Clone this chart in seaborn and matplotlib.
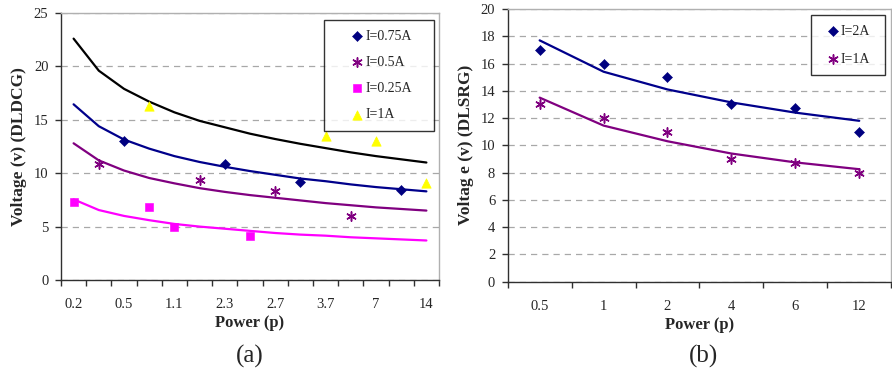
import matplotlib
matplotlib.use("Agg")
import matplotlib.pyplot as plt
import numpy as np
import seaborn as sns

sns.set_theme(style="white")
plt.rcParams['font.family'] = ['Liberation Serif', 'DejaVu Serif']

# ---------------- data: panel (a) ----------------
a_positions = list(range(15))
a_tick_labels = ['0.2', '0.5', '1.1', '2.3', '2.7', '3.7', '7', '14']
a_tick_positions = [0, 2, 4, 6, 8, 10, 12, 14]

a075_x = [2, 6, 9, 13]
a075_y = [13.0, 10.9, 9.2, 8.45]
a05_x = [1, 5, 8, 11]
a05_y = [10.85, 9.35, 8.35, 6.0]
a025_x = [0, 3, 4, 7]
a025_y = [7.3, 6.8, 5.0, 4.1]
a1_x = [3, 10, 12, 14]
a1_y = [16.3, 13.5, 13.0, 9.1]

a_trend_1 = [22.6, 19.6, 17.9, 16.7, 15.7, 14.9, 14.3, 13.7, 13.2, 12.75, 12.35, 11.95, 11.6, 11.3, 11.0]
a_trend_075 = [16.45, 14.4, 13.15, 12.3, 11.6, 11.05, 10.6, 10.2, 9.85, 9.5, 9.25, 8.95, 8.7, 8.5, 8.3]
a_trend_05 = [12.8, 11.2, 10.25, 9.55, 9.05, 8.6, 8.25, 7.95, 7.7, 7.45, 7.2, 7.0, 6.8, 6.65, 6.5]
a_trend_025 = [7.55, 6.55, 6.0, 5.6, 5.25, 5.0, 4.8, 4.6, 4.4, 4.25, 4.15, 4.0, 3.9, 3.8, 3.7]

# ---------------- data: panel (b) ----------------
b_positions = list(range(6))
b_tick_labels = ['0.5', '1', '2', '4', '6', '12']
b2_y = [17.0, 16.0, 15.0, 13.0, 12.75, 11.0]
b1_y = [13.0, 12.0, 11.0, 9.0, 8.7, 8.0]
b_trend_2 = [17.7, 15.4, 14.1, 13.15, 12.4, 11.8]
b_trend_1 = [13.5, 11.45, 10.3, 9.4, 8.75, 8.25]

NAVY = '#000080'
PURPLE = '#800080'
MAGENTA = '#FF00FF'
YELLOW = '#FFFF00'
STAR = (6, 2, 0)

fig = plt.figure(figsize=(8.92, 3.71), dpi=100)
axA = fig.add_axes([61/892, 1-280/371, 378/892, 267/371])
axB = fig.add_axes([507.7/892, 1-281.7/371, 383.5/892, 272.7/371])

def style_axis(ax, ncat, ymax, ystep, tick_pos, tick_labels):
    ax.set_xlim(-0.5, ncat - 0.5)
    ax.set_ylim(0, ymax)
    ax.set_yticks(np.arange(0, ymax + 0.01, ystep))
    ax.yaxis.grid(True, color='#a8a8a8', linestyle=(0, (5, 4)), linewidth=0.9)
    ax.xaxis.grid(False)
    ax.set_axisbelow(True)
    ax.set_xticks(tick_pos)
    ax.set_xticklabels(tick_labels)
    ax.set_xticks(np.arange(-0.5, ncat, 1.0), minor=True)
    ax.tick_params(axis='x', which='major', length=0, pad=13, labelsize=10.5)
    ax.tick_params(axis='x', which='minor', length=4, width=1, color='#303030', direction='out', bottom=True)
    ax.tick_params(axis='y', which='major', length=4, width=1, color='#303030', direction='out', left=True, pad=5, labelsize=10.5)
    for s in ['left', 'bottom']:
        ax.spines[s].set_color('#303030')
        ax.spines[s].set_linewidth(1.0)
    for s in ['top', 'right']:
        ax.spines[s].set_color('#b0b0b0')
        ax.spines[s].set_linewidth(1.0)
    ax.set_xlabel('Power (p)', fontsize=12, fontweight='bold', labelpad=3)

# ---- panel (a) ----
lw = 1.6
sns.lineplot(x=a_positions, y=a_trend_1, ax=axA, color='black', linewidth=lw)
sns.lineplot(x=a_positions, y=a_trend_075, ax=axA, color='#00008B', linewidth=lw)
sns.lineplot(x=a_positions, y=a_trend_05, ax=axA, color=PURPLE, linewidth=lw)
sns.lineplot(x=a_positions, y=a_trend_025, ax=axA, color=MAGENTA, linewidth=lw)

sns.scatterplot(x=a075_x, y=a075_y, ax=axA, marker='D', s=26, color=NAVY, edgecolor=NAVY, label='I=0.75A', zorder=5)
sns.scatterplot(x=a05_x, y=a05_y, ax=axA, marker=STAR, s=45, color=PURPLE, edgecolor=PURPLE, linewidth=1.1, label='I=0.5A', zorder=5)
sns.scatterplot(x=a025_x, y=a025_y, ax=axA, marker='s', s=28, color=MAGENTA, edgecolor=MAGENTA, label='I=0.25A', zorder=5)
sns.scatterplot(x=a1_x, y=a1_y, ax=axA, marker='^', s=45, color=YELLOW, edgecolor=YELLOW, label='I=1A', zorder=5)

style_axis(axA, 15, 25, 5, a_tick_positions, a_tick_labels)
axA.set_ylabel('Voltage (v) (DLDCG)', fontsize=12.5, fontweight='bold', labelpad=5)
legA = axA.legend(loc='upper left', bbox_to_anchor=(0.696, 0.5, 0.291, 0.474), mode='expand',
                  frameon=True, fancybox=False,
                  edgecolor='black', fontsize=10, labelspacing=0.95, borderpad=0.7,
                  handlelength=3.35, handletextpad=-1.1, borderaxespad=0)
legA.get_frame().set_linewidth(1.0)

# ---- panel (b) ----
sns.lineplot(x=b_positions, y=b_trend_2, ax=axB, color='#00008B', linewidth=lw)
sns.lineplot(x=b_positions, y=b_trend_1, ax=axB, color=PURPLE, linewidth=lw)
sns.scatterplot(x=b_positions, y=b2_y, ax=axB, marker='D', s=26, color=NAVY, edgecolor=NAVY, label='I=2A', zorder=5)
sns.scatterplot(x=b_positions, y=b1_y, ax=axB, marker=STAR, s=45, color=PURPLE, edgecolor=PURPLE, linewidth=1.1, label='I=1A', zorder=5)

style_axis(axB, 6, 20, 2, b_positions, b_tick_labels)
axB.set_ylabel('Voltag e (v) (DLSRG)', fontsize=12.5, fontweight='bold', labelpad=5)
legB = axB.legend(loc='upper left', bbox_to_anchor=(0.791, 0.5, 0.193, 0.478), mode='expand',
                  frameon=True, fancybox=False,
                  edgecolor='black', fontsize=10, labelspacing=1.08, borderpad=0.7,
                  handlelength=1.8, handletextpad=-0.4, borderaxespad=0)
legB.get_frame().set_linewidth(1.0)

fig.text(250/892, 1-356/371, '(a)', ha='center', va='center', fontsize=18)
fig.text(703/892, 1-356/371, '(b)', ha='center', va='center', fontsize=18)

fig.savefig('out.png', dpi=100, facecolor='white')
